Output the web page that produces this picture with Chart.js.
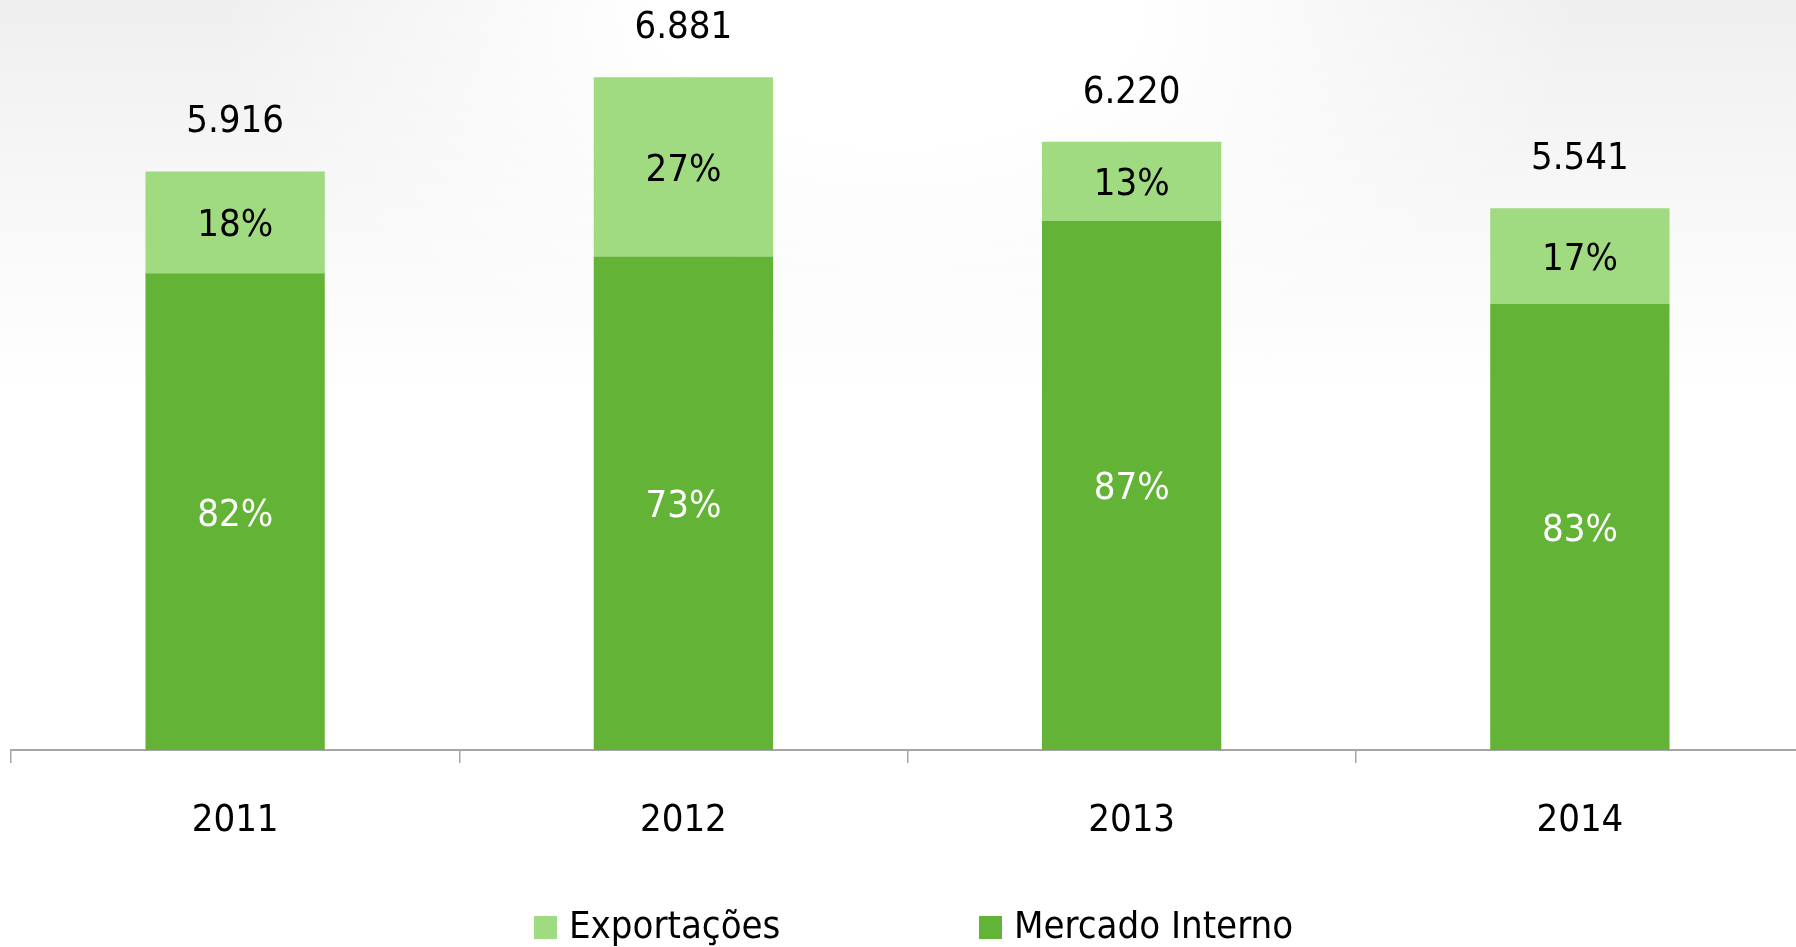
<!DOCTYPE html>
<html>
<head>
<meta charset="utf-8">
<script src="https://cdn.jsdelivr.net/npm/chart.js@4.4.1/dist/chart.umd.min.js"></script>
<style>
   html, body { margin: 0; padding: 0; overflow: hidden; }
   body {
      width: 1796px; height: 947px;
      background:
         radial-gradient(ellipse 38% 42% at 50% 0%, #ffffff 35%, rgba(255,255,255,0) 100%),
         linear-gradient(to bottom, #efefef 0%, #f8f8f8 22%, #ffffff 42%);
   }
   #wrap { position: relative; width: 1804px; height: 947px; }
</style>
</head>
<body>
<div id="wrap"><canvas id="vendasChart"></canvas></div>
<script>
// Data
// ----------------------------------------------
const years          = ['2011', '2012', '2013', '2014'];
const exportacoes    = [1041, 1835, 809, 977];
const mercadoInterno = [4875, 5046, 5411, 4564];
const pctExportacoes = [18, 27, 13, 17];
const pctInterno     = [82, 73, 87, 83];

const lightGreen = '#a0da81';
const darkGreen  = '#63b436';
const axisGray   = '#a6a6a6';
const fontFamily = '"Liberation Sans Narrow", "DejaVu Sans Condensed", "Liberation Sans", sans-serif';
const fontSize   = 38;

const fmt = n => String(n).replace(/\B(?=(\d{3})+(?!\d))/g, '.');

// Value labels inside and above the bars
// ----------------------------------------------
const barLabels = {
   id: 'barLabels',
   afterDatasetsDraw(chart) {
      const ctx = chart.ctx;
      const inner = chart.getDatasetMeta(0).data;
      const outer = chart.getDatasetMeta(1).data;
      ctx.save();
      ctx.font = `${fontSize}px ${fontFamily}`;
      ctx.textAlign = 'center';
      ctx.textBaseline = 'middle';
      inner.forEach((bar, i) => {
         ctx.fillStyle = '#ffffff';
         ctx.fillText(pctInterno[i] + '%', bar.x, (bar.y + bar.base) / 2 + 4);
      });
      outer.forEach((bar, i) => {
         ctx.fillStyle = '#000000';
         ctx.fillText(pctExportacoes[i] + '%', bar.x, (bar.y + bar.base) / 2 + 4);
         ctx.fillText(fmt(mercadoInterno[i] + exportacoes[i]), bar.x, bar.y - 49);
      });
      ctx.restore();
   }
};

// Legend drawn under the axis
// ----------------------------------------------
const bottomLegend = {
   id: 'bottomLegend',
   afterDraw(chart) {
      const ctx = chart.ctx;
      const y = 928;
      ctx.save();
      ctx.font = `${fontSize}px ${fontFamily}`;
      ctx.textAlign = 'left';
      ctx.textBaseline = 'middle';
      chart.data.datasets.slice().reverse().forEach((ds, i) => {
         const x = 534 + i * 445;
         ctx.fillStyle = ds.backgroundColor;
         ctx.fillRect(x, y - 12, 23, 23);
         ctx.fillStyle = '#000000';
         ctx.fillText(ds.label, x + 35, y);
      });
      ctx.restore();
   }
};

document.addEventListener('DOMContentLoaded', () => {

   new Chart(document.getElementById('vendasChart'), {
      type: 'bar',
      data: {
         labels: years,
         datasets: [
            {
               label: 'Mercado Interno',
               data: mercadoInterno,
               backgroundColor: darkGreen,
               borderWidth: 0
            },
            {
               label: 'Exportações',
               data: exportacoes,
               backgroundColor: lightGreen,
               borderWidth: 0
            }
         ]
      },
      options: {
         responsive: true,
         maintainAspectRatio: false,
         animation: false,
         layout: { padding: { left: 11, top: 0, right: 0, bottom: 0 } },
         categoryPercentage: 0.8,
         barPercentage: 0.5,
         plugins: {
            legend: { display: false },
            tooltip: { enabled: false }
         },
         scales: {
            x: {
               stacked: true,
               border: { display: true, color: axisGray, width: 2 },
               grid: {
                  display: true,
                  offset: true,
                  drawOnChartArea: false,
                  drawTicks: true,
                  tickLength: 13,
                  color: axisGray,
                  lineWidth: 1.5
               },
               ticks: {
                  color: '#000000',
                  padding: 35,
                  maxRotation: 0,
                  font: { family: fontFamily, size: fontSize }
               },
               afterFit: scale => { scale.height = 197; }
            },
            y: {
               stacked: true,
               display: false,
               min: 0,
               max: 7670
            }
         }
      },
      plugins: [barLabels, bottomLegend]
   });

});
</script>
</body>
</html>
